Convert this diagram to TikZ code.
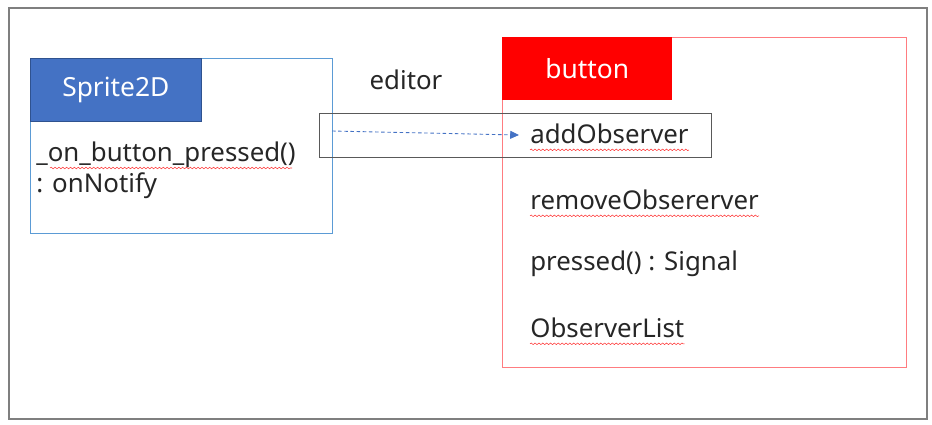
\documentclass[tikz,border=0pt]{standalone}
\usepackage{fontspec}
\setmainfont{Noto Sans}
\usepackage{tikz}
\usetikzlibrary{shapes,arrows.meta,positioning,decorations.pathmorphing}
\definecolor{frameGray}{HTML}{7F7F7F}
\definecolor{lineBlue}{HTML}{5B9BD5}
\definecolor{headBlue}{HTML}{4472C4}
\definecolor{headBorder}{HTML}{2F528F}
\definecolor{lineRed}{HTML}{FF7C80}
\definecolor{boxGray}{HTML}{595959}
\tikzstyle{classbox}=[rectangle, line width=0.6pt, anchor=north west, inner sep=0pt]
\tikzstyle{header}=[rectangle, anchor=north west, text=white, font=\fontsize{15}{18}\selectfont, minimum height=1.26cm, inner sep=0pt]
\tikzstyle{member}=[anchor=west, inner sep=0pt, text=black!85, font=\fontsize{14.7}{17}\selectfont]
\tikzstyle{spell}=[draw=red!80, line width=0.3pt, decorate, decoration={snake, amplitude=0.45pt, segment length=2.2pt}]
\tikzstyle{call}=[draw=headBlue, line width=0.5pt, dash pattern=on 2pt off 1.5pt, -{Triangle[length=5pt,width=4.5pt]}]

\begin{document}
\begin{tikzpicture}[x=0.02cm, y=-0.02cm]
    \useasboundingbox (0,0) rectangle (932,424);
    \node (frame) [classbox, draw=frameGray, line width=1.1pt, minimum width=18.36cm, minimum height=8.22cm] at (8,7) {};

    % Sprite2D
    \node (sprite) [classbox, draw=lineBlue, minimum width=6.04cm, minimum height=3.5cm] at (30,58) {};
    \node (spritehead) [header, fill=headBlue, draw=headBorder, minimum width=3.42cm] at (sprite.north west) {Sprite2D};
    \node (onpressed) [member] at (36,155) {\_on\_button\_pressed()};
    \node (notify) [member, below=0.62cm of onpressed.west, anchor=west] {: onNotify};

    % button
    \node (button) [classbox, draw=lineRed, minimum width=8.08cm, minimum height=6.6cm] at (502,37) {};
    \node (buttonhead) [header, fill=red, minimum width=3.4cm] at (button.north west) {button};
    \node (add) [member] at (530,134) {addObserver};
    \node (remove) [member, below=1.32cm of add.west, anchor=west] {removeObsererver};
    \node (signal) [member, below=1.28cm of remove.west, anchor=west] {pressed() : Signal};
    \node (list) [member, below=1.28cm of signal.west, anchor=west] {ObserverList};

    % editor
    \node (editorbox) [classbox, draw=boxGray, line width=0.8pt, minimum width=7.84cm, minimum height=0.88cm] at (319,113) {};
    \node (editor) [member, anchor=center] at (406,80) {editor};

    \coordinate (src) at (332,131);
    \coordinate (tip) at (519,135);
    \draw[call] (src) -- (tip);

    \draw[spell] (50,168) -- (292,168);
    \draw[spell] ([yshift=-3.5pt]add.base west) -- ([yshift=-3.5pt]add.base east);
    \draw[spell] ([yshift=-3.5pt]remove.base west) -- ([yshift=-3.5pt]remove.base east);
    \draw[spell] ([yshift=-3.5pt]list.base west) -- ([yshift=-3.5pt]list.base east);
\end{tikzpicture}
\end{document}
